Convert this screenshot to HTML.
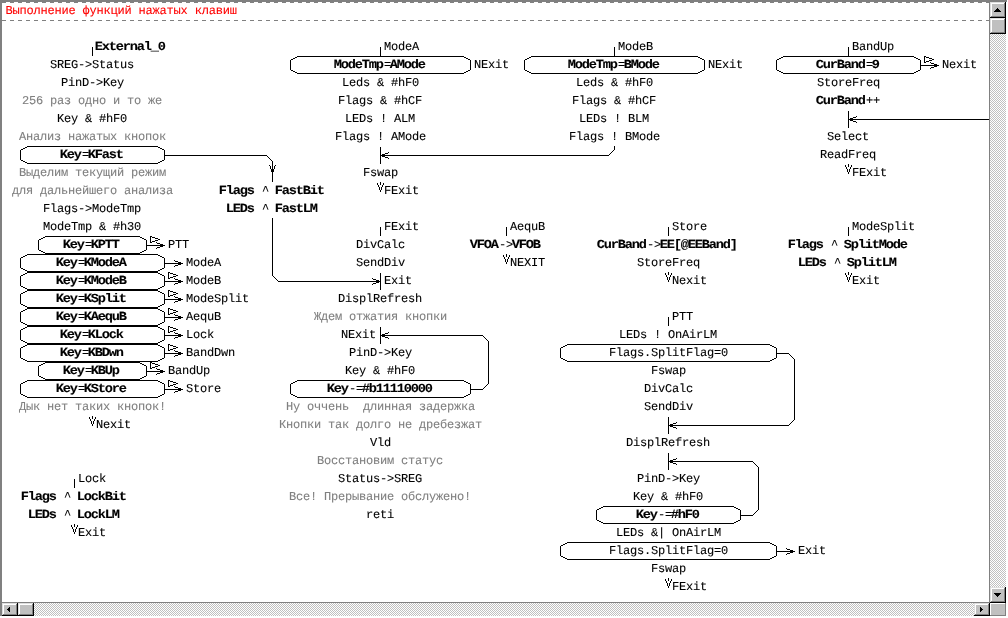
<!DOCTYPE html>
<html lang="ru">
<head>
<meta charset="utf-8">
<title>Выполнение функций нажатых клавиш</title>
<style>
html,body{margin:0;padding:0;background:#fff;width:1008px;height:618px;overflow:hidden}
svg{display:block;will-change:transform}
text{font-family:"Liberation Mono","DejaVu Sans Mono",monospace;font-size:12px;letter-spacing:-0.2px;text-rendering:geometricPrecision;fill:#000;stroke:#000;stroke-width:0.1px;white-space:pre}
.b{font-weight:bold;font-size:12.4px;letter-spacing:-1.076px}
.g{fill:#808080;stroke:#808080}
.t{fill:#ff0000;stroke:#ff0000}
</style>
</head>
<body>
<svg width="1008" height="618" viewBox="0 0 1008 618">
<defs><pattern id="chk" width="2" height="2" patternUnits="userSpaceOnUse"><rect width="2" height="2" fill="#fff"/><rect width="1" height="1" fill="#c0c0c0"/><rect x="1" y="1" width="1" height="1" fill="#c0c0c0"/></pattern></defs>
<rect width="1008" height="618" fill="#fff"/>
<g shape-rendering="crispEdges">
<rect x="0" y="0" width="1007" height="2" fill="#808080"/>
<rect x="0" y="0" width="2" height="616" fill="#808080"/>
<path d="M2 2.5H989 M2 20.5H989" stroke="#808080" stroke-width="1" stroke-dasharray="4 4" fill="none"/>
<rect x="989" y="2" width="17" height="601" fill="url(#chk)"/>
<rect x="989" y="2" width="1" height="601" fill="#808080"/>
<rect x="990" y="2" width="16" height="16" fill="#c0c0c0"/>
<rect x="990" y="2" width="15" height="1" fill="#dfdfdf"/>
<rect x="990" y="2" width="1" height="15" fill="#dfdfdf"/>
<rect x="991" y="3" width="13" height="1" fill="#ffffff"/>
<rect x="991" y="3" width="1" height="13" fill="#ffffff"/>
<rect x="1004" y="3" width="1" height="14" fill="#808080"/>
<rect x="991" y="16" width="14" height="1" fill="#808080"/>
<rect x="1005" y="2" width="1" height="16" fill="#000000"/>
<rect x="990" y="17" width="16" height="1" fill="#000000"/>
<rect x="990" y="18" width="16" height="16" fill="#c0c0c0"/>
<rect x="990" y="18" width="15" height="1" fill="#dfdfdf"/>
<rect x="990" y="18" width="1" height="15" fill="#dfdfdf"/>
<rect x="991" y="19" width="13" height="1" fill="#ffffff"/>
<rect x="991" y="19" width="1" height="13" fill="#ffffff"/>
<rect x="1004" y="19" width="1" height="14" fill="#808080"/>
<rect x="991" y="32" width="14" height="1" fill="#808080"/>
<rect x="1005" y="18" width="1" height="16" fill="#000000"/>
<rect x="990" y="33" width="16" height="1" fill="#000000"/>
<rect x="990" y="587" width="16" height="16" fill="#c0c0c0"/>
<rect x="990" y="587" width="15" height="1" fill="#dfdfdf"/>
<rect x="990" y="587" width="1" height="15" fill="#dfdfdf"/>
<rect x="991" y="588" width="13" height="1" fill="#ffffff"/>
<rect x="991" y="588" width="1" height="13" fill="#ffffff"/>
<rect x="1004" y="588" width="1" height="14" fill="#808080"/>
<rect x="991" y="601" width="14" height="1" fill="#808080"/>
<rect x="1005" y="587" width="1" height="16" fill="#000000"/>
<rect x="990" y="602" width="16" height="1" fill="#000000"/>
<rect x="997" y="8" width="1" height="1" fill="#000000"/>
<rect x="996" y="9" width="3" height="1" fill="#000000"/>
<rect x="995" y="10" width="5" height="1" fill="#000000"/>
<rect x="994" y="11" width="7" height="1" fill="#000000"/>
<rect x="997" y="596" width="1" height="1" fill="#000000"/>
<rect x="996" y="595" width="3" height="1" fill="#000000"/>
<rect x="995" y="594" width="5" height="1" fill="#000000"/>
<rect x="994" y="593" width="7" height="1" fill="#000000"/>
<rect x="2" y="602" width="988" height="14" fill="url(#chk)"/>
<rect x="2" y="602" width="988" height="1" fill="#808080"/>
<rect x="2" y="603" width="16" height="13" fill="#c0c0c0"/>
<rect x="2" y="603" width="15" height="1" fill="#dfdfdf"/>
<rect x="2" y="603" width="1" height="12" fill="#dfdfdf"/>
<rect x="3" y="604" width="13" height="1" fill="#ffffff"/>
<rect x="3" y="604" width="1" height="10" fill="#ffffff"/>
<rect x="16" y="604" width="1" height="11" fill="#808080"/>
<rect x="3" y="614" width="14" height="1" fill="#808080"/>
<rect x="17" y="603" width="1" height="13" fill="#000000"/>
<rect x="2" y="615" width="16" height="1" fill="#000000"/>
<rect x="18" y="603" width="16" height="13" fill="#c0c0c0"/>
<rect x="18" y="603" width="15" height="1" fill="#dfdfdf"/>
<rect x="18" y="603" width="1" height="12" fill="#dfdfdf"/>
<rect x="19" y="604" width="13" height="1" fill="#ffffff"/>
<rect x="19" y="604" width="1" height="10" fill="#ffffff"/>
<rect x="32" y="604" width="1" height="11" fill="#808080"/>
<rect x="19" y="614" width="14" height="1" fill="#808080"/>
<rect x="33" y="603" width="1" height="13" fill="#000000"/>
<rect x="18" y="615" width="16" height="1" fill="#000000"/>
<rect x="974" y="603" width="16" height="13" fill="#c0c0c0"/>
<rect x="974" y="603" width="15" height="1" fill="#dfdfdf"/>
<rect x="974" y="603" width="1" height="12" fill="#dfdfdf"/>
<rect x="975" y="604" width="13" height="1" fill="#ffffff"/>
<rect x="975" y="604" width="1" height="10" fill="#ffffff"/>
<rect x="988" y="604" width="1" height="11" fill="#808080"/>
<rect x="975" y="614" width="14" height="1" fill="#808080"/>
<rect x="989" y="603" width="1" height="13" fill="#000000"/>
<rect x="974" y="615" width="16" height="1" fill="#000000"/>
<rect x="7" y="609" width="1" height="1" fill="#000000"/>
<rect x="8" y="608" width="1" height="3" fill="#000000"/>
<rect x="9" y="607" width="1" height="5" fill="#000000"/>
<rect x="982" y="609" width="1" height="1" fill="#000000"/>
<rect x="981" y="608" width="1" height="3" fill="#000000"/>
<rect x="980" y="607" width="1" height="5" fill="#000000"/>
<rect x="990" y="603" width="16" height="13" fill="#c0c0c0"/>
<rect x="990" y="603" width="16" height="1" fill="#ffffff"/>
<rect x="990" y="603" width="1" height="13" fill="#ffffff"/>
<rect x="1005" y="603" width="1" height="13" fill="#808080"/>
<rect x="990" y="615" width="16" height="1" fill="#808080"/>
</g>
<g shape-rendering="crispEdges" fill="#000">
<rect x="92" y="47" width="1" height="9"/>
<rect x="27" y="146" width="131" height="1"/>
<rect x="27" y="163" width="131" height="1"/>
<rect x="25" y="147" width="2" height="1"/>
<rect x="25" y="162" width="2" height="1"/>
<rect x="158" y="147" width="2" height="1"/>
<rect x="158" y="162" width="2" height="1"/>
<rect x="23" y="148" width="2" height="1"/>
<rect x="23" y="161" width="2" height="1"/>
<rect x="160" y="148" width="2" height="1"/>
<rect x="160" y="161" width="2" height="1"/>
<rect x="21" y="149" width="2" height="1"/>
<rect x="21" y="160" width="2" height="1"/>
<rect x="162" y="149" width="2" height="1"/>
<rect x="162" y="160" width="2" height="1"/>
<rect x="20" y="150" width="1" height="10"/>
<rect x="164" y="150" width="1" height="10"/>
<rect x="45" y="236" width="95" height="1"/>
<rect x="45" y="253" width="95" height="1"/>
<rect x="43" y="237" width="2" height="1"/>
<rect x="43" y="252" width="2" height="1"/>
<rect x="140" y="237" width="2" height="1"/>
<rect x="140" y="252" width="2" height="1"/>
<rect x="41" y="238" width="2" height="1"/>
<rect x="41" y="251" width="2" height="1"/>
<rect x="142" y="238" width="2" height="1"/>
<rect x="142" y="251" width="2" height="1"/>
<rect x="39" y="239" width="2" height="1"/>
<rect x="39" y="250" width="2" height="1"/>
<rect x="144" y="239" width="2" height="1"/>
<rect x="144" y="250" width="2" height="1"/>
<rect x="38" y="240" width="1" height="10"/>
<rect x="146" y="240" width="1" height="10"/>
<rect x="146" y="245" width="19" height="1"/>
<rect x="160" y="244" width="3" height="3"/>
<rect x="157" y="243" width="3" height="1"/>
<rect x="156" y="242" width="1" height="1"/>
<rect x="157" y="247" width="3" height="1"/>
<rect x="156" y="248" width="1" height="1"/>
<rect x="150" y="236" width="1" height="7"/>
<rect x="150" y="236" width="2" height="1"/>
<rect x="152" y="237" width="3" height="1"/>
<rect x="155" y="238" width="3" height="1"/>
<rect x="158" y="239" width="2" height="1"/>
<rect x="155" y="240" width="3" height="1"/>
<rect x="152" y="241" width="3" height="1"/>
<rect x="150" y="242" width="2" height="1"/>
<rect x="27" y="254" width="131" height="1"/>
<rect x="27" y="271" width="131" height="1"/>
<rect x="25" y="255" width="2" height="1"/>
<rect x="25" y="270" width="2" height="1"/>
<rect x="158" y="255" width="2" height="1"/>
<rect x="158" y="270" width="2" height="1"/>
<rect x="23" y="256" width="2" height="1"/>
<rect x="23" y="269" width="2" height="1"/>
<rect x="160" y="256" width="2" height="1"/>
<rect x="160" y="269" width="2" height="1"/>
<rect x="21" y="257" width="2" height="1"/>
<rect x="21" y="268" width="2" height="1"/>
<rect x="162" y="257" width="2" height="1"/>
<rect x="162" y="268" width="2" height="1"/>
<rect x="20" y="258" width="1" height="10"/>
<rect x="164" y="258" width="1" height="10"/>
<rect x="164" y="263" width="19" height="1"/>
<rect x="178" y="262" width="3" height="3"/>
<rect x="175" y="261" width="3" height="1"/>
<rect x="174" y="260" width="1" height="1"/>
<rect x="175" y="265" width="3" height="1"/>
<rect x="174" y="266" width="1" height="1"/>
<rect x="27" y="272" width="131" height="1"/>
<rect x="27" y="289" width="131" height="1"/>
<rect x="25" y="273" width="2" height="1"/>
<rect x="25" y="288" width="2" height="1"/>
<rect x="158" y="273" width="2" height="1"/>
<rect x="158" y="288" width="2" height="1"/>
<rect x="23" y="274" width="2" height="1"/>
<rect x="23" y="287" width="2" height="1"/>
<rect x="160" y="274" width="2" height="1"/>
<rect x="160" y="287" width="2" height="1"/>
<rect x="21" y="275" width="2" height="1"/>
<rect x="21" y="286" width="2" height="1"/>
<rect x="162" y="275" width="2" height="1"/>
<rect x="162" y="286" width="2" height="1"/>
<rect x="20" y="276" width="1" height="10"/>
<rect x="164" y="276" width="1" height="10"/>
<rect x="164" y="281" width="19" height="1"/>
<rect x="178" y="280" width="3" height="3"/>
<rect x="175" y="279" width="3" height="1"/>
<rect x="174" y="278" width="1" height="1"/>
<rect x="175" y="283" width="3" height="1"/>
<rect x="174" y="284" width="1" height="1"/>
<rect x="168" y="272" width="1" height="7"/>
<rect x="168" y="272" width="2" height="1"/>
<rect x="170" y="273" width="3" height="1"/>
<rect x="173" y="274" width="3" height="1"/>
<rect x="176" y="275" width="2" height="1"/>
<rect x="173" y="276" width="3" height="1"/>
<rect x="170" y="277" width="3" height="1"/>
<rect x="168" y="278" width="2" height="1"/>
<rect x="27" y="290" width="131" height="1"/>
<rect x="27" y="307" width="131" height="1"/>
<rect x="25" y="291" width="2" height="1"/>
<rect x="25" y="306" width="2" height="1"/>
<rect x="158" y="291" width="2" height="1"/>
<rect x="158" y="306" width="2" height="1"/>
<rect x="23" y="292" width="2" height="1"/>
<rect x="23" y="305" width="2" height="1"/>
<rect x="160" y="292" width="2" height="1"/>
<rect x="160" y="305" width="2" height="1"/>
<rect x="21" y="293" width="2" height="1"/>
<rect x="21" y="304" width="2" height="1"/>
<rect x="162" y="293" width="2" height="1"/>
<rect x="162" y="304" width="2" height="1"/>
<rect x="20" y="294" width="1" height="10"/>
<rect x="164" y="294" width="1" height="10"/>
<rect x="164" y="299" width="19" height="1"/>
<rect x="178" y="298" width="3" height="3"/>
<rect x="175" y="297" width="3" height="1"/>
<rect x="174" y="296" width="1" height="1"/>
<rect x="175" y="301" width="3" height="1"/>
<rect x="174" y="302" width="1" height="1"/>
<rect x="168" y="290" width="1" height="7"/>
<rect x="168" y="290" width="2" height="1"/>
<rect x="170" y="291" width="3" height="1"/>
<rect x="173" y="292" width="3" height="1"/>
<rect x="176" y="293" width="2" height="1"/>
<rect x="173" y="294" width="3" height="1"/>
<rect x="170" y="295" width="3" height="1"/>
<rect x="168" y="296" width="2" height="1"/>
<rect x="27" y="308" width="131" height="1"/>
<rect x="27" y="325" width="131" height="1"/>
<rect x="25" y="309" width="2" height="1"/>
<rect x="25" y="324" width="2" height="1"/>
<rect x="158" y="309" width="2" height="1"/>
<rect x="158" y="324" width="2" height="1"/>
<rect x="23" y="310" width="2" height="1"/>
<rect x="23" y="323" width="2" height="1"/>
<rect x="160" y="310" width="2" height="1"/>
<rect x="160" y="323" width="2" height="1"/>
<rect x="21" y="311" width="2" height="1"/>
<rect x="21" y="322" width="2" height="1"/>
<rect x="162" y="311" width="2" height="1"/>
<rect x="162" y="322" width="2" height="1"/>
<rect x="20" y="312" width="1" height="10"/>
<rect x="164" y="312" width="1" height="10"/>
<rect x="164" y="317" width="19" height="1"/>
<rect x="178" y="316" width="3" height="3"/>
<rect x="175" y="315" width="3" height="1"/>
<rect x="174" y="314" width="1" height="1"/>
<rect x="175" y="319" width="3" height="1"/>
<rect x="174" y="320" width="1" height="1"/>
<rect x="168" y="308" width="1" height="7"/>
<rect x="168" y="308" width="2" height="1"/>
<rect x="170" y="309" width="3" height="1"/>
<rect x="173" y="310" width="3" height="1"/>
<rect x="176" y="311" width="2" height="1"/>
<rect x="173" y="312" width="3" height="1"/>
<rect x="170" y="313" width="3" height="1"/>
<rect x="168" y="314" width="2" height="1"/>
<rect x="27" y="326" width="131" height="1"/>
<rect x="27" y="343" width="131" height="1"/>
<rect x="25" y="327" width="2" height="1"/>
<rect x="25" y="342" width="2" height="1"/>
<rect x="158" y="327" width="2" height="1"/>
<rect x="158" y="342" width="2" height="1"/>
<rect x="23" y="328" width="2" height="1"/>
<rect x="23" y="341" width="2" height="1"/>
<rect x="160" y="328" width="2" height="1"/>
<rect x="160" y="341" width="2" height="1"/>
<rect x="21" y="329" width="2" height="1"/>
<rect x="21" y="340" width="2" height="1"/>
<rect x="162" y="329" width="2" height="1"/>
<rect x="162" y="340" width="2" height="1"/>
<rect x="20" y="330" width="1" height="10"/>
<rect x="164" y="330" width="1" height="10"/>
<rect x="164" y="335" width="19" height="1"/>
<rect x="178" y="334" width="3" height="3"/>
<rect x="175" y="333" width="3" height="1"/>
<rect x="174" y="332" width="1" height="1"/>
<rect x="175" y="337" width="3" height="1"/>
<rect x="174" y="338" width="1" height="1"/>
<rect x="168" y="326" width="1" height="7"/>
<rect x="168" y="326" width="2" height="1"/>
<rect x="170" y="327" width="3" height="1"/>
<rect x="173" y="328" width="3" height="1"/>
<rect x="176" y="329" width="2" height="1"/>
<rect x="173" y="330" width="3" height="1"/>
<rect x="170" y="331" width="3" height="1"/>
<rect x="168" y="332" width="2" height="1"/>
<rect x="27" y="344" width="131" height="1"/>
<rect x="27" y="361" width="131" height="1"/>
<rect x="25" y="345" width="2" height="1"/>
<rect x="25" y="360" width="2" height="1"/>
<rect x="158" y="345" width="2" height="1"/>
<rect x="158" y="360" width="2" height="1"/>
<rect x="23" y="346" width="2" height="1"/>
<rect x="23" y="359" width="2" height="1"/>
<rect x="160" y="346" width="2" height="1"/>
<rect x="160" y="359" width="2" height="1"/>
<rect x="21" y="347" width="2" height="1"/>
<rect x="21" y="358" width="2" height="1"/>
<rect x="162" y="347" width="2" height="1"/>
<rect x="162" y="358" width="2" height="1"/>
<rect x="20" y="348" width="1" height="10"/>
<rect x="164" y="348" width="1" height="10"/>
<rect x="164" y="353" width="19" height="1"/>
<rect x="178" y="352" width="3" height="3"/>
<rect x="175" y="351" width="3" height="1"/>
<rect x="174" y="350" width="1" height="1"/>
<rect x="175" y="355" width="3" height="1"/>
<rect x="174" y="356" width="1" height="1"/>
<rect x="168" y="344" width="1" height="7"/>
<rect x="168" y="344" width="2" height="1"/>
<rect x="170" y="345" width="3" height="1"/>
<rect x="173" y="346" width="3" height="1"/>
<rect x="176" y="347" width="2" height="1"/>
<rect x="173" y="348" width="3" height="1"/>
<rect x="170" y="349" width="3" height="1"/>
<rect x="168" y="350" width="2" height="1"/>
<rect x="45" y="362" width="95" height="1"/>
<rect x="45" y="379" width="95" height="1"/>
<rect x="43" y="363" width="2" height="1"/>
<rect x="43" y="378" width="2" height="1"/>
<rect x="140" y="363" width="2" height="1"/>
<rect x="140" y="378" width="2" height="1"/>
<rect x="41" y="364" width="2" height="1"/>
<rect x="41" y="377" width="2" height="1"/>
<rect x="142" y="364" width="2" height="1"/>
<rect x="142" y="377" width="2" height="1"/>
<rect x="39" y="365" width="2" height="1"/>
<rect x="39" y="376" width="2" height="1"/>
<rect x="144" y="365" width="2" height="1"/>
<rect x="144" y="376" width="2" height="1"/>
<rect x="38" y="366" width="1" height="10"/>
<rect x="146" y="366" width="1" height="10"/>
<rect x="146" y="371" width="19" height="1"/>
<rect x="160" y="370" width="3" height="3"/>
<rect x="157" y="369" width="3" height="1"/>
<rect x="156" y="368" width="1" height="1"/>
<rect x="157" y="373" width="3" height="1"/>
<rect x="156" y="374" width="1" height="1"/>
<rect x="150" y="362" width="1" height="7"/>
<rect x="150" y="362" width="2" height="1"/>
<rect x="152" y="363" width="3" height="1"/>
<rect x="155" y="364" width="3" height="1"/>
<rect x="158" y="365" width="2" height="1"/>
<rect x="155" y="366" width="3" height="1"/>
<rect x="152" y="367" width="3" height="1"/>
<rect x="150" y="368" width="2" height="1"/>
<rect x="27" y="380" width="131" height="1"/>
<rect x="27" y="397" width="131" height="1"/>
<rect x="25" y="381" width="2" height="1"/>
<rect x="25" y="396" width="2" height="1"/>
<rect x="158" y="381" width="2" height="1"/>
<rect x="158" y="396" width="2" height="1"/>
<rect x="23" y="382" width="2" height="1"/>
<rect x="23" y="395" width="2" height="1"/>
<rect x="160" y="382" width="2" height="1"/>
<rect x="160" y="395" width="2" height="1"/>
<rect x="21" y="383" width="2" height="1"/>
<rect x="21" y="394" width="2" height="1"/>
<rect x="162" y="383" width="2" height="1"/>
<rect x="162" y="394" width="2" height="1"/>
<rect x="20" y="384" width="1" height="10"/>
<rect x="164" y="384" width="1" height="10"/>
<rect x="164" y="389" width="19" height="1"/>
<rect x="178" y="388" width="3" height="3"/>
<rect x="175" y="387" width="3" height="1"/>
<rect x="174" y="386" width="1" height="1"/>
<rect x="175" y="391" width="3" height="1"/>
<rect x="174" y="392" width="1" height="1"/>
<rect x="168" y="380" width="1" height="7"/>
<rect x="168" y="380" width="2" height="1"/>
<rect x="170" y="381" width="3" height="1"/>
<rect x="173" y="382" width="3" height="1"/>
<rect x="176" y="383" width="2" height="1"/>
<rect x="173" y="384" width="3" height="1"/>
<rect x="170" y="385" width="3" height="1"/>
<rect x="168" y="386" width="2" height="1"/>
<rect x="92" y="416" width="1" height="3"/>
<rect x="92" y="424" width="1" height="2"/>
<rect x="89" y="417" width="1" height="2"/>
<rect x="90" y="419" width="1" height="2"/>
<rect x="91" y="421" width="1" height="3"/>
<rect x="95" y="417" width="1" height="2"/>
<rect x="94" y="419" width="1" height="2"/>
<rect x="93" y="421" width="1" height="3"/>
<rect x="164" y="155" width="103" height="1"/>
<rect x="266" y="155" width="1" height="1"/>
<rect x="267" y="156" width="1" height="1"/>
<rect x="268" y="157" width="1" height="1"/>
<rect x="269" y="158" width="1" height="1"/>
<rect x="270" y="159" width="1" height="1"/>
<rect x="271" y="160" width="1" height="1"/>
<rect x="272" y="161" width="1" height="1"/>
<rect x="272" y="161" width="1" height="21"/>
<rect x="271" y="169" width="3" height="3"/>
<rect x="270" y="166" width="1" height="3"/>
<rect x="269" y="165" width="1" height="1"/>
<rect x="274" y="166" width="1" height="3"/>
<rect x="275" y="165" width="1" height="1"/>
<rect x="74" y="479" width="1" height="9"/>
<rect x="74" y="524" width="1" height="3"/>
<rect x="74" y="532" width="1" height="2"/>
<rect x="71" y="525" width="1" height="2"/>
<rect x="72" y="527" width="1" height="2"/>
<rect x="73" y="529" width="1" height="3"/>
<rect x="77" y="525" width="1" height="2"/>
<rect x="76" y="527" width="1" height="2"/>
<rect x="75" y="529" width="1" height="3"/>
<rect x="380" y="47" width="1" height="9"/>
<rect x="297" y="56" width="167" height="1"/>
<rect x="297" y="73" width="167" height="1"/>
<rect x="295" y="57" width="2" height="1"/>
<rect x="295" y="72" width="2" height="1"/>
<rect x="464" y="57" width="2" height="1"/>
<rect x="464" y="72" width="2" height="1"/>
<rect x="293" y="58" width="2" height="1"/>
<rect x="293" y="71" width="2" height="1"/>
<rect x="466" y="58" width="2" height="1"/>
<rect x="466" y="71" width="2" height="1"/>
<rect x="291" y="59" width="2" height="1"/>
<rect x="291" y="70" width="2" height="1"/>
<rect x="468" y="59" width="2" height="1"/>
<rect x="468" y="70" width="2" height="1"/>
<rect x="290" y="60" width="1" height="10"/>
<rect x="470" y="60" width="1" height="10"/>
<rect x="380" y="147" width="1" height="17"/>
<rect x="382" y="154" width="3" height="3"/>
<rect x="385" y="153" width="3" height="1"/>
<rect x="388" y="152" width="1" height="1"/>
<rect x="385" y="157" width="3" height="1"/>
<rect x="388" y="158" width="1" height="1"/>
<rect x="380" y="182" width="1" height="3"/>
<rect x="380" y="190" width="1" height="2"/>
<rect x="377" y="183" width="1" height="2"/>
<rect x="378" y="185" width="1" height="2"/>
<rect x="379" y="187" width="1" height="3"/>
<rect x="383" y="183" width="1" height="2"/>
<rect x="382" y="185" width="1" height="2"/>
<rect x="381" y="187" width="1" height="3"/>
<rect x="380" y="227" width="1" height="9"/>
<rect x="380" y="273" width="1" height="17"/>
<rect x="272" y="218" width="1" height="58"/>
<rect x="272" y="275" width="1" height="1"/>
<rect x="273" y="276" width="1" height="1"/>
<rect x="274" y="277" width="1" height="1"/>
<rect x="275" y="278" width="1" height="1"/>
<rect x="276" y="279" width="1" height="1"/>
<rect x="277" y="280" width="1" height="1"/>
<rect x="278" y="281" width="1" height="1"/>
<rect x="278" y="281" width="103" height="1"/>
<rect x="376" y="280" width="3" height="3"/>
<rect x="373" y="279" width="3" height="1"/>
<rect x="372" y="278" width="1" height="1"/>
<rect x="373" y="283" width="3" height="1"/>
<rect x="372" y="284" width="1" height="1"/>
<rect x="297" y="380" width="167" height="1"/>
<rect x="297" y="397" width="167" height="1"/>
<rect x="295" y="381" width="2" height="1"/>
<rect x="295" y="396" width="2" height="1"/>
<rect x="464" y="381" width="2" height="1"/>
<rect x="464" y="396" width="2" height="1"/>
<rect x="293" y="382" width="2" height="1"/>
<rect x="293" y="395" width="2" height="1"/>
<rect x="466" y="382" width="2" height="1"/>
<rect x="466" y="395" width="2" height="1"/>
<rect x="291" y="383" width="2" height="1"/>
<rect x="291" y="394" width="2" height="1"/>
<rect x="468" y="383" width="2" height="1"/>
<rect x="468" y="394" width="2" height="1"/>
<rect x="290" y="384" width="1" height="10"/>
<rect x="470" y="384" width="1" height="10"/>
<rect x="470" y="389" width="13" height="1"/>
<rect x="482" y="389" width="1" height="1"/>
<rect x="483" y="388" width="1" height="1"/>
<rect x="484" y="387" width="1" height="1"/>
<rect x="485" y="386" width="1" height="1"/>
<rect x="486" y="385" width="1" height="1"/>
<rect x="487" y="384" width="1" height="1"/>
<rect x="488" y="383" width="1" height="1"/>
<rect x="488" y="341" width="1" height="43"/>
<rect x="488" y="341" width="1" height="1"/>
<rect x="487" y="340" width="1" height="1"/>
<rect x="486" y="339" width="1" height="1"/>
<rect x="485" y="338" width="1" height="1"/>
<rect x="484" y="337" width="1" height="1"/>
<rect x="483" y="336" width="1" height="1"/>
<rect x="482" y="335" width="1" height="1"/>
<rect x="380" y="335" width="103" height="1"/>
<rect x="380" y="327" width="1" height="17"/>
<rect x="382" y="334" width="3" height="3"/>
<rect x="385" y="333" width="3" height="1"/>
<rect x="388" y="332" width="1" height="1"/>
<rect x="385" y="337" width="3" height="1"/>
<rect x="388" y="338" width="1" height="1"/>
<rect x="506" y="227" width="1" height="9"/>
<rect x="506" y="254" width="1" height="3"/>
<rect x="506" y="262" width="1" height="2"/>
<rect x="503" y="255" width="1" height="2"/>
<rect x="504" y="257" width="1" height="2"/>
<rect x="505" y="259" width="1" height="3"/>
<rect x="509" y="255" width="1" height="2"/>
<rect x="508" y="257" width="1" height="2"/>
<rect x="507" y="259" width="1" height="3"/>
<rect x="614" y="47" width="1" height="9"/>
<rect x="531" y="56" width="167" height="1"/>
<rect x="531" y="73" width="167" height="1"/>
<rect x="529" y="57" width="2" height="1"/>
<rect x="529" y="72" width="2" height="1"/>
<rect x="698" y="57" width="2" height="1"/>
<rect x="698" y="72" width="2" height="1"/>
<rect x="527" y="58" width="2" height="1"/>
<rect x="527" y="71" width="2" height="1"/>
<rect x="700" y="58" width="2" height="1"/>
<rect x="700" y="71" width="2" height="1"/>
<rect x="525" y="59" width="2" height="1"/>
<rect x="525" y="70" width="2" height="1"/>
<rect x="702" y="59" width="2" height="1"/>
<rect x="702" y="70" width="2" height="1"/>
<rect x="524" y="60" width="1" height="10"/>
<rect x="704" y="60" width="1" height="10"/>
<rect x="614" y="146" width="1" height="4"/>
<rect x="614" y="149" width="1" height="1"/>
<rect x="613" y="150" width="1" height="1"/>
<rect x="612" y="151" width="1" height="1"/>
<rect x="611" y="152" width="1" height="1"/>
<rect x="610" y="153" width="1" height="1"/>
<rect x="609" y="154" width="1" height="1"/>
<rect x="608" y="155" width="1" height="1"/>
<rect x="380" y="155" width="229" height="1"/>
<rect x="668" y="227" width="1" height="9"/>
<rect x="668" y="272" width="1" height="3"/>
<rect x="668" y="280" width="1" height="2"/>
<rect x="665" y="273" width="1" height="2"/>
<rect x="666" y="275" width="1" height="2"/>
<rect x="667" y="277" width="1" height="3"/>
<rect x="671" y="273" width="1" height="2"/>
<rect x="670" y="275" width="1" height="2"/>
<rect x="669" y="277" width="1" height="3"/>
<rect x="668" y="317" width="1" height="9"/>
<rect x="567" y="344" width="203" height="1"/>
<rect x="567" y="361" width="203" height="1"/>
<rect x="565" y="345" width="2" height="1"/>
<rect x="565" y="360" width="2" height="1"/>
<rect x="770" y="345" width="2" height="1"/>
<rect x="770" y="360" width="2" height="1"/>
<rect x="563" y="346" width="2" height="1"/>
<rect x="563" y="359" width="2" height="1"/>
<rect x="772" y="346" width="2" height="1"/>
<rect x="772" y="359" width="2" height="1"/>
<rect x="561" y="347" width="2" height="1"/>
<rect x="561" y="358" width="2" height="1"/>
<rect x="774" y="347" width="2" height="1"/>
<rect x="774" y="358" width="2" height="1"/>
<rect x="560" y="348" width="1" height="10"/>
<rect x="776" y="348" width="1" height="10"/>
<rect x="776" y="353" width="13" height="1"/>
<rect x="788" y="353" width="1" height="1"/>
<rect x="789" y="354" width="1" height="1"/>
<rect x="790" y="355" width="1" height="1"/>
<rect x="791" y="356" width="1" height="1"/>
<rect x="792" y="357" width="1" height="1"/>
<rect x="793" y="358" width="1" height="1"/>
<rect x="794" y="359" width="1" height="1"/>
<rect x="794" y="359" width="1" height="61"/>
<rect x="794" y="419" width="1" height="1"/>
<rect x="793" y="420" width="1" height="1"/>
<rect x="792" y="421" width="1" height="1"/>
<rect x="791" y="422" width="1" height="1"/>
<rect x="790" y="423" width="1" height="1"/>
<rect x="789" y="424" width="1" height="1"/>
<rect x="788" y="425" width="1" height="1"/>
<rect x="668" y="425" width="121" height="1"/>
<rect x="668" y="417" width="1" height="17"/>
<rect x="670" y="424" width="3" height="3"/>
<rect x="673" y="423" width="3" height="1"/>
<rect x="676" y="422" width="1" height="1"/>
<rect x="673" y="427" width="3" height="1"/>
<rect x="676" y="428" width="1" height="1"/>
<rect x="603" y="506" width="131" height="1"/>
<rect x="603" y="523" width="131" height="1"/>
<rect x="601" y="507" width="2" height="1"/>
<rect x="601" y="522" width="2" height="1"/>
<rect x="734" y="507" width="2" height="1"/>
<rect x="734" y="522" width="2" height="1"/>
<rect x="599" y="508" width="2" height="1"/>
<rect x="599" y="521" width="2" height="1"/>
<rect x="736" y="508" width="2" height="1"/>
<rect x="736" y="521" width="2" height="1"/>
<rect x="597" y="509" width="2" height="1"/>
<rect x="597" y="520" width="2" height="1"/>
<rect x="738" y="509" width="2" height="1"/>
<rect x="738" y="520" width="2" height="1"/>
<rect x="596" y="510" width="1" height="10"/>
<rect x="740" y="510" width="1" height="10"/>
<rect x="740" y="515" width="13" height="1"/>
<rect x="752" y="515" width="1" height="1"/>
<rect x="753" y="514" width="1" height="1"/>
<rect x="754" y="513" width="1" height="1"/>
<rect x="755" y="512" width="1" height="1"/>
<rect x="756" y="511" width="1" height="1"/>
<rect x="757" y="510" width="1" height="1"/>
<rect x="758" y="509" width="1" height="1"/>
<rect x="758" y="467" width="1" height="43"/>
<rect x="758" y="467" width="1" height="1"/>
<rect x="757" y="466" width="1" height="1"/>
<rect x="756" y="465" width="1" height="1"/>
<rect x="755" y="464" width="1" height="1"/>
<rect x="754" y="463" width="1" height="1"/>
<rect x="753" y="462" width="1" height="1"/>
<rect x="752" y="461" width="1" height="1"/>
<rect x="668" y="461" width="85" height="1"/>
<rect x="668" y="453" width="1" height="17"/>
<rect x="670" y="460" width="3" height="3"/>
<rect x="673" y="459" width="3" height="1"/>
<rect x="676" y="458" width="1" height="1"/>
<rect x="673" y="463" width="3" height="1"/>
<rect x="676" y="464" width="1" height="1"/>
<rect x="567" y="542" width="203" height="1"/>
<rect x="567" y="559" width="203" height="1"/>
<rect x="565" y="543" width="2" height="1"/>
<rect x="565" y="558" width="2" height="1"/>
<rect x="770" y="543" width="2" height="1"/>
<rect x="770" y="558" width="2" height="1"/>
<rect x="563" y="544" width="2" height="1"/>
<rect x="563" y="557" width="2" height="1"/>
<rect x="772" y="544" width="2" height="1"/>
<rect x="772" y="557" width="2" height="1"/>
<rect x="561" y="545" width="2" height="1"/>
<rect x="561" y="556" width="2" height="1"/>
<rect x="774" y="545" width="2" height="1"/>
<rect x="774" y="556" width="2" height="1"/>
<rect x="560" y="546" width="1" height="10"/>
<rect x="776" y="546" width="1" height="10"/>
<rect x="776" y="551" width="19" height="1"/>
<rect x="790" y="550" width="3" height="3"/>
<rect x="787" y="549" width="3" height="1"/>
<rect x="786" y="548" width="1" height="1"/>
<rect x="787" y="553" width="3" height="1"/>
<rect x="786" y="554" width="1" height="1"/>
<rect x="668" y="578" width="1" height="3"/>
<rect x="668" y="586" width="1" height="2"/>
<rect x="665" y="579" width="1" height="2"/>
<rect x="666" y="581" width="1" height="2"/>
<rect x="667" y="583" width="1" height="3"/>
<rect x="671" y="579" width="1" height="2"/>
<rect x="670" y="581" width="1" height="2"/>
<rect x="669" y="583" width="1" height="3"/>
<rect x="848" y="47" width="1" height="9"/>
<rect x="783" y="56" width="131" height="1"/>
<rect x="783" y="73" width="131" height="1"/>
<rect x="781" y="57" width="2" height="1"/>
<rect x="781" y="72" width="2" height="1"/>
<rect x="914" y="57" width="2" height="1"/>
<rect x="914" y="72" width="2" height="1"/>
<rect x="779" y="58" width="2" height="1"/>
<rect x="779" y="71" width="2" height="1"/>
<rect x="916" y="58" width="2" height="1"/>
<rect x="916" y="71" width="2" height="1"/>
<rect x="777" y="59" width="2" height="1"/>
<rect x="777" y="70" width="2" height="1"/>
<rect x="918" y="59" width="2" height="1"/>
<rect x="918" y="70" width="2" height="1"/>
<rect x="776" y="60" width="1" height="10"/>
<rect x="920" y="60" width="1" height="10"/>
<rect x="920" y="65" width="19" height="1"/>
<rect x="934" y="64" width="3" height="3"/>
<rect x="931" y="63" width="3" height="1"/>
<rect x="930" y="62" width="1" height="1"/>
<rect x="931" y="67" width="3" height="1"/>
<rect x="930" y="68" width="1" height="1"/>
<rect x="924" y="56" width="1" height="7"/>
<rect x="924" y="56" width="2" height="1"/>
<rect x="926" y="57" width="3" height="1"/>
<rect x="929" y="58" width="3" height="1"/>
<rect x="932" y="59" width="2" height="1"/>
<rect x="929" y="60" width="3" height="1"/>
<rect x="926" y="61" width="3" height="1"/>
<rect x="924" y="62" width="2" height="1"/>
<rect x="848" y="111" width="1" height="17"/>
<rect x="848" y="119" width="141" height="1"/>
<rect x="850" y="118" width="3" height="3"/>
<rect x="853" y="117" width="3" height="1"/>
<rect x="856" y="116" width="1" height="1"/>
<rect x="853" y="121" width="3" height="1"/>
<rect x="856" y="122" width="1" height="1"/>
<rect x="848" y="164" width="1" height="3"/>
<rect x="848" y="172" width="1" height="2"/>
<rect x="845" y="165" width="1" height="2"/>
<rect x="846" y="167" width="1" height="2"/>
<rect x="847" y="169" width="1" height="3"/>
<rect x="851" y="165" width="1" height="2"/>
<rect x="850" y="167" width="1" height="2"/>
<rect x="849" y="169" width="1" height="3"/>
<rect x="848" y="227" width="1" height="9"/>
<rect x="848" y="272" width="1" height="3"/>
<rect x="848" y="280" width="1" height="2"/>
<rect x="845" y="273" width="1" height="2"/>
<rect x="846" y="275" width="1" height="2"/>
<rect x="847" y="277" width="1" height="3"/>
<rect x="851" y="273" width="1" height="2"/>
<rect x="850" y="275" width="1" height="2"/>
<rect x="849" y="277" width="1" height="3"/>
</g>
<text x="5.6" y="14" class="t">Выполнение функций нажатых клавиш</text>
<g xml:space="preserve">
<text transform="translate(94.7 50) scale(1.1 1)" class="b">External_0</text>
<text x="50" y="68">SREG-&gt;Status</text>
<text x="61" y="86">PinD-&gt;Key</text>
<text x="22" y="104" class="g">256 раз одно и то же</text>
<text x="57" y="122">Key &amp; #hF0</text>
<text x="19" y="140" class="g">Анализ нажатых кнопок</text>
<text transform="translate(59.7 158) scale(1.1 1)" class="b">Key</text>
<text x="82" y="158">=</text>
<text transform="translate(87.7 158) scale(1.1 1)" class="b">KFast</text>
<text x="19" y="176" class="g">Выделим текущий режим</text>
<text x="12" y="194" class="g">для дальнейшего анализа</text>
<text x="43" y="212">Flags-&gt;ModeTmp</text>
<text x="43" y="230">ModeTmp &amp; #h30</text>
<text transform="translate(62.7 248) scale(1.1 1)" class="b">Key</text>
<text x="85" y="248">=</text>
<text transform="translate(90.7 248) scale(1.1 1)" class="b">KPTT</text>
<text x="168" y="248">PTT</text>
<text transform="translate(55.7 266) scale(1.1 1)" class="b">Key</text>
<text x="78" y="266">=</text>
<text transform="translate(83.7 266) scale(1.1 1)" class="b">KModeA</text>
<text x="186" y="266">ModeA</text>
<text transform="translate(55.7 284) scale(1.1 1)" class="b">Key</text>
<text x="78" y="284">=</text>
<text transform="translate(83.7 284) scale(1.1 1)" class="b">KModeB</text>
<text x="186" y="284">ModeB</text>
<text transform="translate(55.7 302) scale(1.1 1)" class="b">Key</text>
<text x="78" y="302">=</text>
<text transform="translate(83.7 302) scale(1.1 1)" class="b">KSplit</text>
<text x="186" y="302">ModeSplit</text>
<text transform="translate(55.7 320) scale(1.1 1)" class="b">Key</text>
<text x="78" y="320">=</text>
<text transform="translate(83.7 320) scale(1.1 1)" class="b">KAequB</text>
<text x="186" y="320">AequB</text>
<text transform="translate(59.7 338) scale(1.1 1)" class="b">Key</text>
<text x="82" y="338">=</text>
<text transform="translate(87.7 338) scale(1.1 1)" class="b">KLock</text>
<text x="186" y="338">Lock</text>
<text transform="translate(59.7 356) scale(1.1 1)" class="b">Key</text>
<text x="82" y="356">=</text>
<text transform="translate(87.7 356) scale(1.1 1)" class="b">KBDwn</text>
<text x="186" y="356">BandDwn</text>
<text transform="translate(62.7 374) scale(1.1 1)" class="b">Key</text>
<text x="85" y="374">=</text>
<text transform="translate(90.7 374) scale(1.1 1)" class="b">KBUp</text>
<text x="168" y="374">BandUp</text>
<text transform="translate(55.7 392) scale(1.1 1)" class="b">Key</text>
<text x="78" y="392">=</text>
<text transform="translate(83.7 392) scale(1.1 1)" class="b">KStore</text>
<text x="186" y="392">Store</text>
<text x="19" y="410" class="g">Дык нет таких кнопок!</text>
<text x="96" y="428">Nexit</text>
<text transform="translate(218.7 194) scale(1.1 1)" class="b">Flags</text>
<text x="262" y="194">^</text>
<text transform="translate(274.7 194) scale(1.1 1)" class="b">FastBit</text>
<text transform="translate(225.7 212) scale(1.1 1)" class="b">LEDs</text>
<text x="262" y="212">^</text>
<text transform="translate(274.7 212) scale(1.1 1)" class="b">FastLM</text>
<text x="78" y="482">Lock</text>
<text transform="translate(20.7 500) scale(1.1 1)" class="b">Flags</text>
<text x="64" y="500">^</text>
<text transform="translate(76.7 500) scale(1.1 1)" class="b">LockBit</text>
<text transform="translate(27.7 518) scale(1.1 1)" class="b">LEDs</text>
<text x="64" y="518">^</text>
<text transform="translate(76.7 518) scale(1.1 1)" class="b">LockLM</text>
<text x="78" y="536">Exit</text>
<text x="384" y="50">ModeA</text>
<text transform="translate(333.7 68) scale(1.1 1)" class="b">ModeTmp</text>
<text x="384" y="68">=</text>
<text transform="translate(389.7 68) scale(1.1 1)" class="b">AMode</text>
<text x="474" y="68">NExit</text>
<text x="342" y="86">Leds &amp; #hF0</text>
<text x="338" y="104">Flags &amp; #hCF</text>
<text x="345" y="122">LEDs ! ALM</text>
<text x="335" y="140">Flags ! AMode</text>
<text x="363" y="176">Fswap</text>
<text x="384" y="194">FExit</text>
<text x="384" y="230">FExit</text>
<text x="356" y="248">DivCalc</text>
<text x="356" y="266">SendDiv</text>
<text x="384" y="284">Exit</text>
<text x="338" y="302">DisplRefresh</text>
<text x="314" y="320" class="g">Ждем отжатия кнопки</text>
<text x="341" y="338">NExit</text>
<text x="349" y="356">PinD-&gt;Key</text>
<text x="345" y="374">Key &amp; #hF0</text>
<text transform="translate(326.7 392) scale(1.1 1)" class="b">Key</text>
<text x="349" y="392">-=</text>
<text transform="translate(361.7 392) scale(1.1 1)" class="b">#b11110000</text>
<text x="286" y="410" class="g">Ну оччень  длинная задержка</text>
<text x="279" y="428" class="g">Кнопки так долго не дребезжат</text>
<text x="370" y="446">Vld</text>
<text x="317" y="464" class="g">Восстановим статус</text>
<text x="338" y="482">Status-&gt;SREG</text>
<text x="289" y="500" class="g">Все! Прерывание обслужено!</text>
<text x="366" y="518">reti</text>
<text x="510" y="230">AequB</text>
<text transform="translate(469.7 248) scale(1.1 1)" class="b">VFOA</text>
<text x="499" y="248">-&gt;</text>
<text transform="translate(511.7 248) scale(1.1 1)" class="b">VFOB</text>
<text x="510" y="266">NEXIT</text>
<text x="618" y="50">ModeB</text>
<text transform="translate(567.7 68) scale(1.1 1)" class="b">ModeTmp</text>
<text x="618" y="68">=</text>
<text transform="translate(623.7 68) scale(1.1 1)" class="b">BMode</text>
<text x="708" y="68">NExit</text>
<text x="576" y="86">Leds &amp; #hF0</text>
<text x="572" y="104">Flags &amp; #hCF</text>
<text x="579" y="122">LEDs ! BLM</text>
<text x="569" y="140">Flags ! BMode</text>
<text x="672" y="230">Store</text>
<text transform="translate(596.7 248) scale(1.1 1)" class="b">CurBand</text>
<text x="647" y="248">-&gt;</text>
<text transform="translate(659.7 248) scale(1.1 1)" class="b">EE[@EEBand]</text>
<text x="637" y="266">StoreFreq</text>
<text x="672" y="284">Nexit</text>
<text x="672" y="320">PTT</text>
<text x="619" y="338">LEDs ! OnAirLM</text>
<text x="609" y="356">Flags.SplitFlag=0</text>
<text x="651" y="374">Fswap</text>
<text x="644" y="392">DivCalc</text>
<text x="644" y="410">SendDiv</text>
<text x="626" y="446">DisplRefresh</text>
<text x="637" y="482">PinD-&gt;Key</text>
<text x="633" y="500">Key &amp; #hF0</text>
<text transform="translate(635.7 518) scale(1.1 1)" class="b">Key</text>
<text x="658" y="518">-=</text>
<text transform="translate(670.7 518) scale(1.1 1)" class="b">#hF0</text>
<text x="616" y="536">LEDs &amp;| OnAirLM</text>
<text x="609" y="554">Flags.SplitFlag=0</text>
<text x="798" y="554">Exit</text>
<text x="651" y="572">Fswap</text>
<text x="672" y="590">FExit</text>
<text x="852" y="50">BandUp</text>
<text transform="translate(815.7 68) scale(1.1 1)" class="b">CurBand</text>
<text x="866" y="68">=</text>
<text transform="translate(871.7 68) scale(1.1 1)" class="b">9</text>
<text x="942" y="68">Nexit</text>
<text x="817" y="86">StoreFreq</text>
<text transform="translate(815.7 104) scale(1.1 1)" class="b">CurBand</text>
<text x="866" y="104">++</text>
<text x="827" y="140">Select</text>
<text x="820" y="158">ReadFreq</text>
<text x="852" y="176">FExit</text>
<text x="852" y="230">ModeSplit</text>
<text transform="translate(787.7 248) scale(1.1 1)" class="b">Flags</text>
<text x="831" y="248">^</text>
<text transform="translate(843.7 248) scale(1.1 1)" class="b">SplitMode</text>
<text transform="translate(797.7 266) scale(1.1 1)" class="b">LEDs</text>
<text x="834" y="266">^</text>
<text transform="translate(846.7 266) scale(1.1 1)" class="b">SplitLM</text>
<text x="852" y="284">Exit</text>
</g>
</svg>
</body>
</html>
